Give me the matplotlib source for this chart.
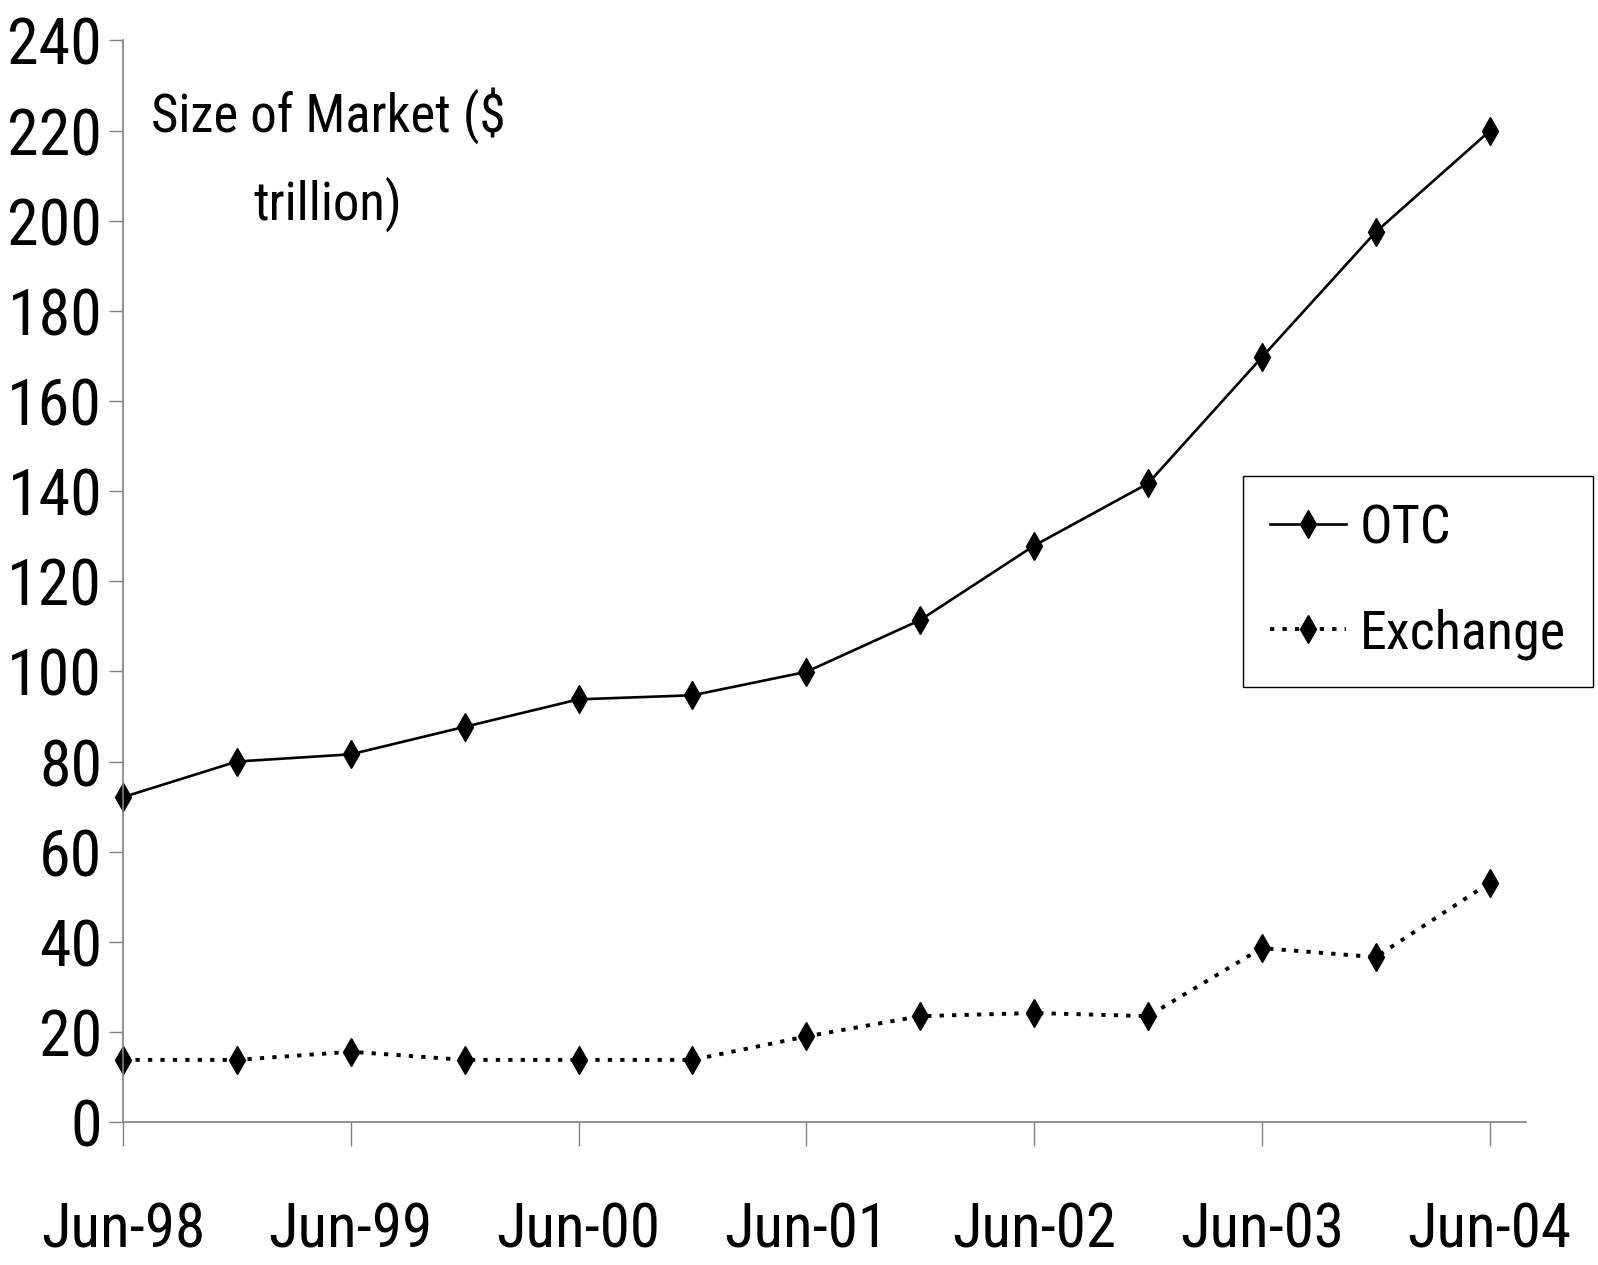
import numpy as np
import matplotlib
matplotlib.use('Agg')
import matplotlib.pyplot as plt

plt.rcParams['font.family'] = ['Roboto Condensed', 'Liberation Sans', 'DejaVu Sans']

# half-year observations, Jun-98 .. Jun-04
periods = ['Jun-98', 'Dec-98', 'Jun-99', 'Dec-99', 'Jun-00', 'Dec-00', 'Jun-01',
           'Dec-01', 'Jun-02', 'Dec-02', 'Jun-03', 'Dec-03', 'Jun-04']
otc = [72.1, 80.0, 81.6, 87.7, 93.8, 94.7, 99.9, 111.4, 127.9, 141.7, 169.7, 197.5, 219.9]
exchange = [13.8, 13.8, 15.6, 13.8, 13.8, 13.8, 19.0, 23.5, 24.2, 23.5, 38.6, 36.6, 53.1]
year_labels = ['Jun-98', 'Jun-99', 'Jun-00', 'Jun-01', 'Jun-02', 'Jun-03', 'Jun-04']

x = np.arange(len(periods))

fig = plt.figure(figsize=(15.98, 12.65), dpi=100)
ax = fig.add_axes([0.077, 0.113, 0.878, 0.855])

ax.plot(x, otc, color='black', linewidth=1.9, marker='d', markersize=14,
        label='OTC', clip_on=False)
ax.plot(x, exchange, color='black', linewidth=2.8, linestyle=(0, (1.1, 2.1)),
        marker='d', markersize=14, label='Exchange', clip_on=False)

ax.set_xlim(0, 12.32)
ax.set_ylim(0, 240)
ax.set_yticks(range(0, 241, 20))
ax.set_xticks(x[::2])
ax.set_xticklabels(year_labels)

for s in ['top', 'right']:
    ax.spines[s].set_visible(False)
for s in ['left', 'bottom']:
    ax.spines[s].set_color('#808080')
    ax.spines[s].set_linewidth(1.2)

ax.tick_params(axis='y', direction='out', length=10, width=1, color='#808080',
               labelsize=46, pad=5)
ax.tick_params(axis='x', direction='out', length=17, width=1, color='#808080',
               labelsize=44, pad=40)

ax.text(0.146, 0.89, 'Size of Market ($\ntrillion)', transform=ax.transAxes,
        ha='center', va='center', multialignment='center', fontsize=38,
        linespacing=1.75)

leg = ax.legend(loc='upper right', bbox_to_anchor=(1593 / 1598, 1 - 476 / 1265),
                bbox_transform=fig.transFigure, borderaxespad=0, fontsize=39,
                handlelength=1.4, handletextpad=0.25, borderpad=0.5,
                labelspacing=1.0, fancybox=False, framealpha=1)
leg.get_frame().set_edgecolor('black')
leg.get_frame().set_linewidth(1.0)

fig.savefig('out.png', dpi=100)
